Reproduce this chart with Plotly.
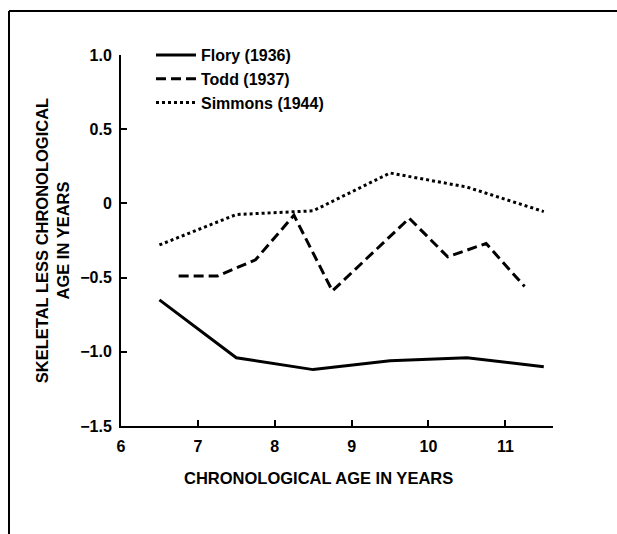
import plotly.graph_objects as go

# Data
flory_x = [6.5, 7.5, 8.5, 9.5, 10.5, 11.5]
flory_y = [-0.65, -1.04, -1.12, -1.06, -1.04, -1.10]

todd_x = [6.75, 7.25, 7.75, 8.25, 8.75, 9.75, 10.25, 10.75, 11.25]
todd_y = [-0.49, -0.49, -0.38, -0.08, -0.59, -0.10, -0.36, -0.27, -0.56]

simmons_x = [6.5, 7.5, 8.5, 9.5, 10.5, 11.5]
simmons_y = [-0.28, -0.075, -0.05, 0.205, 0.11, -0.055]

series_names = ["Flory (1936)", "Todd (1937)", "Simmons (1944)"]

x_ticks = [6, 7, 8, 9, 10, 11]
y_ticks = [1.0, 0.5, 0, -0.5, -1.0, -1.5]
y_tick_text = ["1.0", "0.5", "0", "\u22120.5", "\u22121.0", "\u22121.5"]

FONT = "Liberation Sans, Arial, sans-serif"

W, H = 617, 534
# plot area in window pixels: x 121..553, y 55..426
L, T = 121, 55
R, B = 617 - 553, 534 - 426
PW, PH = W - L - R, H - T - B

def px(xp):
    return (xp - L) / PW

def py(yp):
    return (H - B - yp) / PH

def bold(s):
    return "<b>" + s + "</b>"

fig = go.Figure()
fig.add_trace(go.Scatter(x=flory_x, y=flory_y, mode="lines", name=bold(series_names[0]),
                         line=dict(color="black", width=3)))
fig.add_trace(go.Scatter(x=todd_x, y=todd_y, mode="lines", name=bold(series_names[1]),
                         line=dict(color="black", width=3, dash="10px,5px")))
fig.add_trace(go.Scatter(x=simmons_x, y=simmons_y, mode="lines", name=bold(series_names[2]),
                         line=dict(color="black", width=3, dash="dot")))

fig.update_layout(
    width=W, height=H,
    margin=dict(l=L, r=R, t=T, b=B, autoexpand=False),
    paper_bgcolor="white", plot_bgcolor="white",
    font=dict(family=FONT, size=16, color="black"),
    showlegend=True,
    legend=dict(x=px(151), y=py(38), xanchor="left", yanchor="top",
                bgcolor="rgba(0,0,0,0)", borderwidth=0,
                font=dict(family=FONT, size=16, color="black"),
                itemwidth=40, tracegroupgap=0),
    xaxis=dict(range=[6, 11.62], tickvals=x_ticks, ticktext=[bold(str(v)) for v in x_ticks],
               showgrid=False, zeroline=False, showline=True, linecolor="black", linewidth=2,
               ticks="inside", ticklen=6, tickwidth=2, tickcolor="black",
               ticklabelstandoff=5,
               tickfont=dict(family=FONT, size=16, color="black")),
    yaxis=dict(range=[-1.5, 1.0], tickvals=y_ticks, ticktext=[bold(t) for t in y_tick_text],
               showgrid=False, zeroline=False, showline=True, linecolor="black", linewidth=2,
               ticks="inside", ticklen=6, tickwidth=2, tickcolor="black",
               ticklabelstandoff=4,
               tickfont=dict(family=FONT, size=16, color="black"),
               title=dict(text=bold("SKELETAL LESS CHRONOLOGICAL<br>AGE IN YEARS"),
                          font=dict(family=FONT, size=16.5, color="black"), standoff=6)),
    annotations=[dict(text=bold("CHRONOLOGICAL AGE IN YEARS"), xref="paper", yref="paper",
                      x=px(318), y=py(478), xanchor="center", yanchor="middle",
                      showarrow=False, font=dict(family=FONT, size=16.5, color="black"))],
    shapes=[
        dict(type="line", xref="paper", yref="paper", x0=px(9), x1=px(617), y0=py(11), y1=py(11),
             line=dict(color="black", width=2)),
        dict(type="line", xref="paper", yref="paper", x0=px(9), x1=px(9), y0=py(11), y1=py(534),
             line=dict(color="black", width=2)),
    ],
)

fig.write_html(
    "out.html",
    config={"displayModeBar": False},
    post_script=(
        "document.documentElement.style.overflow='hidden';"
        "document.body.style.margin='0';document.body.style.overflow='hidden';"
    ),
)
